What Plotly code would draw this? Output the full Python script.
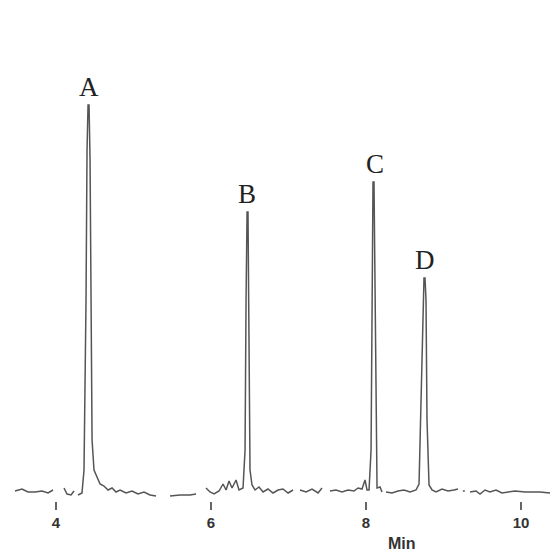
import plotly.graph_objects as go

# Retention time (min) and detector signal (arbitrary units); None = gap in the trace
time_min = [
    3.471, 3.561, 3.639, 3.729, 3.819, 3.897, 3.961, None,
    4.103, 4.142, 4.194, 4.232, None,
    4.284, 4.335, 4.361, 4.387, 4.400, 4.413, 4.426, 4.439, 4.452, 4.465, 4.490,
    4.529, 4.568, 4.619, 4.671, 4.723, 4.774, 4.826, 4.903, 4.981, 5.058, 5.135,
    5.213, 5.290, None,
    5.471, 5.600, 5.729, 5.806, None,
    5.935, 5.987, 6.039, 6.103, 6.155, 6.194, 6.232, 6.271, 6.323, 6.361, 6.413,
    6.439, 6.452, 6.465, 6.477, 6.490, 6.503, 6.529, 6.568, 6.619, 6.671, 6.735,
    6.800, 6.865, 6.929, 6.994, 7.058, None,
    7.148, 7.226, 7.303, 7.381, 7.432, None,
    7.535, 7.613, 7.690, 7.768, 7.845, 7.897, 7.948, 7.987, 8.013, 8.039, 8.065,
    8.077, 8.090, 8.103, 8.116, 8.129, 8.142, 8.181, 8.206, None,
    8.258, 8.335, 8.413, 8.490, 8.568, 8.645, 8.684, 8.710, 8.735, 8.748, 8.761,
    8.774, 8.787, 8.813, 8.852, 8.903, 8.981, 9.058, 9.135, 9.187, None,
    9.250, 9.275, None,
    9.342, 9.419, 9.471, 9.535, 9.600, 9.677, 9.755, 9.832, 9.923, 10.052,
    10.245, 10.374,
]
signal = [
    1, 3, 0, 0, 1, -1, 2, None,
    4, -2, -3, 1, None,
    -3, -1, 22, 192, 342, 387, 387, 332, 192, 52, 22,
    14, 8, 6, 2, 4, 0, 2, -1, 1, -2, 0,
    -3, -4, None,
    -4, -3, -3, -2, None,
    4, 0, -2, 1, 8, 2, 11, 4, 12, 2, 4,
    42, 192, 280, 280, 172, 22, 7, 2, 5, 0, 3,
    -1, 2, 3, -1, 2, None,
    2, 0, 3, -1, 4, None,
    1, 2, 0, 2, 1, 4, 3, 12, 2, 2, 42,
    192, 310, 310, 192, 42, 4, 5, 0, None,
    0, -1, 1, 2, 0, 2, 8, 92, 202, 214, 214,
    192, 72, 7, 2, 0, 3, 1, 2, 3, None,
    1, 1, None,
    0, 1, -2, 2, 0, 2, -1, 0, 1, 0,
    0, -1,
]

# Peak labels
peak_names = ["A", "B", "C", "D"]
peak_times = [4.42, 6.47, 8.11, 8.76]
peak_heights = [387, 280, 310, 214]

tick_vals = [4, 6, 8, 10]
tick_text = ["<b>4</b>", "<b>6</b>", "<b>8</b>", "<b>10</b>"]

fig = go.Figure()
fig.add_trace(go.Scatter(
    x=time_min, y=signal, mode="lines",
    line=dict(color="#555555", width=1.5),
    connectgaps=False, hoverinfo="skip", showlegend=False,
))

for name, t, h in zip(peak_names, peak_times, peak_heights):
    fig.add_annotation(
        x=t, y=h, text=name, showarrow=False,
        xanchor="center", yanchor="bottom", yshift=1,
        font=dict(family="Liberation Serif, Times New Roman, serif", size=27, color="#222222"),
    )

fig.add_annotation(
    xref="paper", yref="paper", x=0.73, y=0, yshift=-42,
    text="<b>Min</b>", showarrow=False, xanchor="center", yanchor="middle",
    font=dict(family="Liberation Sans, Arial, sans-serif", size=16, color="#333333"),
)

fig.update_layout(
    width=550, height=551,
    margin=dict(l=0, r=0, t=0, b=50),
    paper_bgcolor="white", plot_bgcolor="white",
    xaxis=dict(
        range=[3.277, 10.374], showgrid=False, zeroline=False, showline=False,
        tickmode="array", tickvals=tick_vals, ticktext=tick_text,
        ticks="outside", ticklen=8, tickwidth=2, tickcolor="#666666",
        tickfont=dict(family="Liberation Sans, Arial, sans-serif", size=15, color="#333333"),
    ),
    yaxis=dict(
        range=[-9, 492], showgrid=False, zeroline=False, showline=False,
        showticklabels=False, ticks="",
    ),
)

fig.write_html(
    "out.html",
    config={"displayModeBar": False},
    post_script="document.body.style.margin='0';document.body.style.padding='0';",
)
